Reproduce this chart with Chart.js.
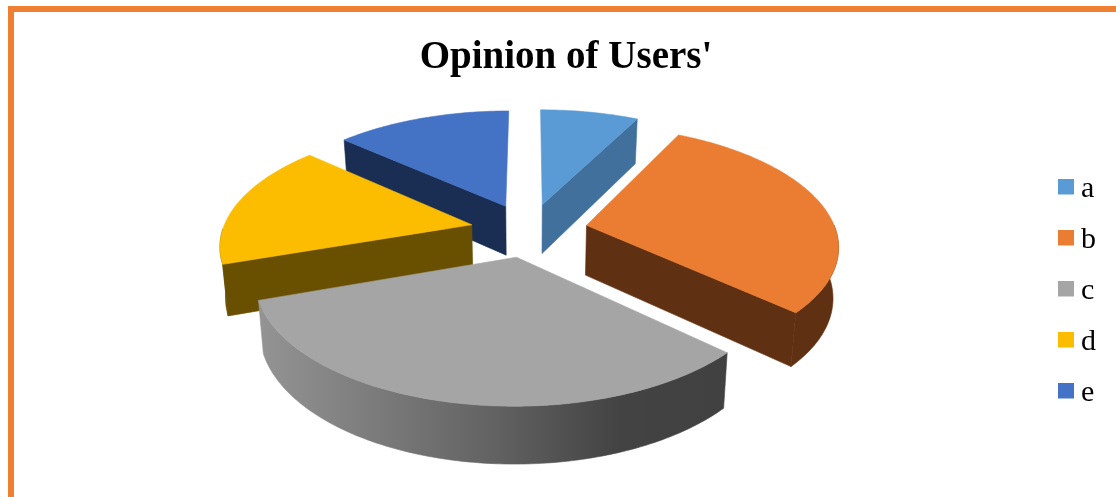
<!DOCTYPE html>
<html>
<head>
<meta charset="utf-8">
<title>Opinion of Users'</title>
<script src="https://cdn.jsdelivr.net/npm/chart.js@4"></script>
<style>
    html, body { margin: 0; padding: 0; background: #fff; overflow: hidden; height: 497px; }
    #marco {
        position: absolute; left: 8px; top: 6px; width: 1110px; height: 565px;
        border-left: 6px solid #EF7F33; border-top: 6px solid #EF7F33;
    }
    #grafico { display: block; }
</style>
</head>
<body>
<div id="marco"><canvas id="grafico" width="1104" height="559"></canvas></div>
<script>
const categorias = ["a", "b", "c", "d", "e"];
const valores = [7.5, 29.4, 32.8, 16.9, 13.4];
const colores = ["#5B9BD5", "#EB7D33", "#A5A5A5", "#FCBD00", "#4472C4"];
const coloresLado = ["#41709C", "#5F3012", null, "#685000", "#1A2D52"];

// ground plane to screen, the far side of the pie comes out smaller
const vista = { cx: 529 - 14, cy: 230 - 12, rx: 255.5, ry: 116.7, k: 0.154, separacion: 0.23, grosor: 50, anchoAro: 0.975 };

function proyectar(u, v, z) {
    let w = 1 + vista.k * v;
    return [
        vista.cx + vista.rx * u / w * (1 - 0.018 * z),
        vista.cy - vista.ry * v / w + z * vista.grosor / Math.pow(w, 0.7)
    ];
}

function rellenar(ctx, puntos, color) {
    ctx.beginPath();
    puntos.forEach((p, i) => i ? ctx.lineTo(p[0], p[1]) : ctx.moveTo(p[0], p[1]));
    ctx.closePath();
    ctx.fillStyle = color;
    ctx.strokeStyle = color;
    ctx.lineWidth = 0.6;
    ctx.fill();
    ctx.stroke();
}

function degradadoGris(ctx) {
    let g = ctx.createLinearGradient(258 - 14, 0, 722 - 14, 0);
    g.addColorStop(0, "#949494");
    g.addColorStop(0.5, "#636363");
    g.addColorStop(0.78, "#434343");
    g.addColorStop(1, "#414141");
    return g;
}

// a cut face only shows when going down leaves the top of the slice
function caraVisible(centro, punta, interior) {
    let ex = punta[0] - centro[0];
    let ey = punta[1] - centro[1];
    let largo = Math.hypot(ex, ey);
    let haciaAbajo = ex / largo;
    let haciaDentro = ex * (interior[1] - centro[1]) - ey * (interior[0] - centro[0]);
    return Math.abs(haciaAbajo) > 0.1 && haciaAbajo * haciaDentro < 0;
}

const pastel3d = {
    id: "pastel3d",
    beforeDatasetsDraw(chart) {
        let ctx = chart.ctx;
        let arcos = chart.getDatasetMeta(0).data;

        let porciones = arcos.map((arco, i) => {
            let ini = arco.startAngle + Math.PI / 2;
            let fin = arco.endAngle + Math.PI / 2;
            let medio = (ini + fin) / 2;
            return {
                i, ini, fin, medio,
                du: vista.separacion * Math.sin(medio),
                dv: vista.separacion * Math.cos(medio)
            };
        });

        // the ones further back go first
        porciones.sort((a, b) => b.dv - a.dv);

        porciones.forEach(p => {
            let enBorde = a => [p.du + vista.anchoAro * Math.sin(a), p.dv + Math.cos(a)];
            let borde = [];
            for (let a = p.ini; a < p.fin; a += Math.PI / 180) {
                borde.push(enBorde(a));
            }
            borde.push(enBorde(p.fin));

            let centro = [p.du, p.dv];
            let lado = coloresLado[p.i] || degradadoGris(ctx);
            let interior = proyectar(...enBorde(p.medio), 0);

            [enBorde(p.ini), enBorde(p.fin)].forEach(b => {
                let c0 = proyectar(centro[0], centro[1], 0);
                let b0 = proyectar(b[0], b[1], 0);
                if (caraVisible(c0, b0, interior)) {
                    rellenar(ctx, [c0, b0, proyectar(b[0], b[1], 1), proyectar(centro[0], centro[1], 1)], lado);
                }
            });

            // outer wall, only the stretch turned towards the viewer
            let frente = [];
            for (let a = Math.max(p.ini, Math.PI / 2); a < Math.min(p.fin, 268 * Math.PI / 180); a += Math.PI / 180) {
                frente.push(enBorde(a));
            }
            let tope = Math.min(p.fin, 268 * Math.PI / 180);
            if (frente.length) {
                frente.push(enBorde(tope));
                let aro = frente.map(b => proyectar(b[0], b[1], 0));
                frente.slice().reverse().forEach(b => aro.push(proyectar(b[0], b[1], 1)));
                rellenar(ctx, aro, lado);
            }

            let tapa = [proyectar(centro[0], centro[1], 0)];
            borde.forEach(b => tapa.push(proyectar(b[0], b[1], 0)));
            rellenar(ctx, tapa, colores[p.i]);
        });

        return false;
    }
};

// square swatch, the label sits closer to it than the default box allows,
// the extra height at the bottom lifts the square against its label
function muestra(color) {
    let c = document.createElement("canvas");
    c.width = 16;
    c.height = 22;
    let g = c.getContext("2d");
    g.fillStyle = color;
    g.fillRect(0, 0, 16, 16);
    return c;
}

new Chart(document.getElementById("grafico"), {
    type: "pie",
    data: {
        labels: categorias,
        datasets: [{ data: valores, backgroundColor: colores }]
    },
    options: {
        responsive: false,
        animation: false,
        layout: { padding: { left: 12, right: 12 } },
        plugins: {
            title: {
                display: true,
                text: "Opinion of Users'",
                color: "#000",
                font: { family: "'Liberation Serif'", size: 39, weight: "bold" },
                padding: { top: 23, bottom: 10 }
            },
            legend: {
                position: "right",
                labels: {
                    color: "#000",
                    font: { family: "'Liberation Serif'", size: 30 },
                    usePointStyle: true,
                    pointStyleWidth: 1,
                    padding: 21,
                    generateLabels(chart) {
                        let items = Chart.overrides.pie.plugins.legend.labels.generateLabels(chart);
                        items.forEach((it, i) => { it.pointStyle = muestra(colores[i]); });
                        return items;
                    }
                }
            },
            tooltip: { enabled: false }
        }
    },
    plugins: [pastel3d]
});
</script>
</body>
</html>
